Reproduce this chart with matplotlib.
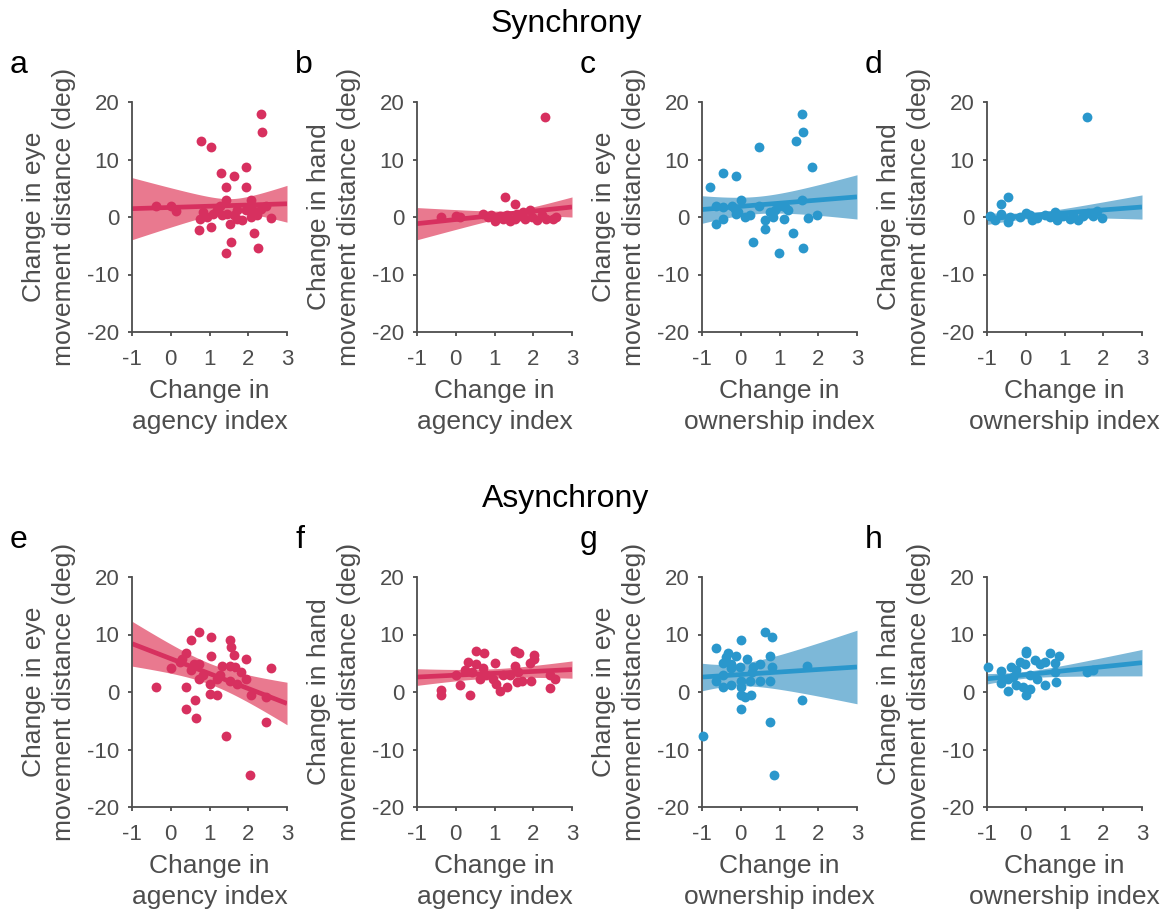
import numpy as np
import matplotlib.pyplot as plt

plt.rcParams['font.family'] = ['Liberation Sans', 'DejaVu Sans']
plt.rcParams['axes.unicode_minus'] = False

RED = '#d7305f'
RED_BAND = '#e9798f'
BLUE = '#2a97cc'
BLUE_BAND = '#7db8d8'
GREY = '#4d4d4d'

# --- synchrony ---
a_x = [2.32, 2.36, 0.77, 1.03, 1.95, 1.30, 1.64, 1.42, 1.95, -0.37, 0.00, 0.13,
       1.42, 2.06, 2.46, 2.58, 0.76, 0.93, 0.84, 1.19, 1.28, 1.45, 1.54, 1.71,
       1.84, 2.06, 2.23, 2.32, 0.72, 1.03, 2.15, 1.55, 1.43, 2.24, 1.10, 1.32,
       1.63, 1.93, 2.10, 1.71]
a_y = [17.9, 14.7, 13.2, 12.1, 8.7, 7.6, 7.1, 5.2, 5.2, 1.9, 2.0, 1.0,
       2.9, 2.9, 2.0, -0.2, -0.3, 0.0, 0.9, 1.2, 2.0, 0.6, -1.2, 1.2,
       -0.6, 0.0, 0.3, 1.4, -2.3, -1.7, -2.7, -4.4, -6.3, -5.4, 0.6, 0.3,
       0.3, 1.2, 1.4, -0.3]

b_x = [2.30, 1.28, 1.53, -0.39, 0.00, 0.12, 0.71, 0.84, 1.01, 1.14, 1.31, 1.40,
       1.53, 1.66, 1.78, 1.91, 1.96, 2.09, 2.22, 2.34, 2.52, 2.58, 0.92, 1.22,
       1.74, 1.59]
b_y = [17.4, 3.5, 2.3, 0.0, 0.1, 0.0, 0.5, 0.0, -0.7, 0.1, 0.3, -0.7,
       -0.3, 0.1, -0.3, 1.2, 0.0, -0.5, 0.3, -0.3, -0.3, 0.0, 0.3, -0.3,
       0.9, 0.5]

c_x = [1.59, 1.60, 1.43, 0.48, 1.85, -0.47, -0.13, -0.79, -0.64, -0.47, -0.22, 0.00,
       -0.13, 0.10, 0.23, 0.48, 0.62, 0.62, 0.75, 0.84, 0.98, 1.11, 1.22, 1.59,
       1.74, 1.98, -0.64, -0.47, 0.32, 0.99, 1.35, 1.60, -0.16, -0.07, 0.88, 1.14]
c_y = [18.0, 14.7, 13.2, 12.1, 8.7, 7.7, 7.1, 5.2, 2.0, 1.7, 2.0, 2.9,
       0.6, 0.0, 0.3, 2.0, -0.6, -2.0, 0.9, 0.0, 2.0, -0.3, 1.2, 3.0,
       -0.1, 0.3, -1.3, -0.3, -4.4, -6.3, -2.7, -5.4, 1.4, 0.9, 1.2, 1.7]

d_x = [1.59, -0.47, -0.64, -0.80, -0.64, -0.47, -0.41, -0.16, 0.00, 0.10, 0.15, 0.28,
       0.49, 0.62, 0.75, 0.81, 0.97, 1.14, 1.22, 1.35, 1.48, 1.61, 1.74, 1.85,
       1.98, -0.93]
d_y = [17.4, 3.5, 2.3, -0.6, 0.6, -0.9, 0.0, 0.0, 0.7, 0.3, -0.6, -0.1,
       0.3, 0.0, 0.9, -0.5, 0.1, -0.3, 0.3, -0.5, 0.1, 0.7, 0.1, 1.0,
       -0.1, 0.1]

# --- asynchrony ---
e_x = [0.72, 1.03, 0.51, 1.54, 1.56, 0.39, 1.64, 1.03, 1.94, 2.58, 0.29, 0.00,
       0.60, 0.72, 0.51, 0.72, 1.32, 1.54, 1.67, 1.80, 1.93, 1.19, 1.02, 1.28,
       1.54, 1.71, -0.37, 0.39, 1.02, 1.19, 2.06, 2.46, 0.63, 0.39, 0.65, 2.46,
       1.43, 2.05, 0.23, 0.84]
e_y = [10.4, 9.6, 9.0, 9.0, 7.8, 6.8, 6.4, 6.2, 5.8, 4.2, 5.8, 4.2,
       4.9, 4.8, 3.9, 2.3, 4.6, 4.6, 4.3, 3.5, 2.3, 2.3, 1.4, 2.9,
       2.0, 1.4, 0.9, 0.9, -0.3, -0.6, -0.6, -0.9, -1.4, -2.9, -4.6, -5.2,
       -7.7, -14.4, 5.2, 2.9]

f_x = [0.52, 0.72, 1.53, 1.63, 2.03, 2.03, 1.91, 0.32, 1.01, 0.52, 0.00, 0.23,
       0.41, 0.62, 0.71, 0.79, 0.97, 1.05, 1.14, 1.31, 1.40, 1.53, 1.61, 1.57,
       1.70, 1.93, 2.43, 2.56, 2.43, -0.39, -0.39, 0.12, 0.38, 1.22]
f_y = [7.2, 6.8, 7.2, 6.8, 6.4, 5.8, 5.1, 5.2, 5.1, 4.8, 3.0, 3.9,
       3.4, 2.3, 4.1, 2.9, 2.3, 1.4, 0.1, 0.9, 2.9, 4.6, 3.5, 1.7,
       2.0, 2.0, 3.0, 2.3, 0.7, 0.3, -0.5, 1.3, -0.5, 2.9]

g_x = [0.62, 0.81, 0.00, -0.64, -0.33, -0.13, -0.37, 0.16, 0.75, -0.47, -0.24, -0.03,
       0.32, 0.49, 0.81, 1.72, -0.24, -0.47, -0.64, -0.47, -0.24, 0.00, 0.23, 0.49,
       0.75, 0.00, 0.00, 0.12, 0.26, 0.00, 1.59, 0.75, -0.97, 0.86, 0.28]
g_y = [10.4, 9.6, 9.0, 7.7, 6.7, 6.3, 6.1, 5.8, 6.2, 5.0, 4.9, 4.3,
       4.3, 4.8, 4.3, 4.6, 4.1, 3.0, 2.0, 0.9, 1.3, 2.0, 1.9, 2.0,
       1.9, 0.9, -0.5, -0.9, -0.6, -2.9, -1.4, -5.2, -7.7, -14.4, 3.5]

h_x = [-0.97, 0.00, 0.00, 0.62, 0.86, 0.23, 0.49, -0.16, -0.03, 0.36, 0.75, -0.37,
       -0.24, -0.64, -0.47, -0.64, -0.47, -0.24, -0.07, 0.00, 0.12, 0.28, 0.49, 0.78,
       0.75, 1.59, 1.74, -0.33, 0.10]
h_y = [4.3, 7.2, 6.7, 6.8, 6.3, 5.5, 5.3, 5.2, 4.9, 4.8, 5.1, 4.3,
       3.8, 3.6, 2.3, 1.6, 0.1, 1.3, 0.9, -0.5, 0.6, 2.3, 1.3, 1.7,
       3.5, 3.4, 3.9, 2.6, 2.9]

# regression fits a..h: line value at x=-1 and x=3,
# 95% CI half-width at x=-1, at x=3, and at its narrowest
fit_left = [1.45, -1.16, 1.3, -0.3, 8.4, 2.6, 2.6, 2.3]
fit_right = [2.3, 1.74, 3.5, 1.74, -2.0, 3.9, 4.35, 5.1]
ci_left = [5.4, 2.8, 2.4, 1.0, 3.9, 1.45, 2.4, 0.9]
ci_right = [3.2, 1.75, 3.85, 2.1, 3.7, 1.5, 6.4, 2.3]
ci_min = [1.2, 0.5, 1.5, 0.5, 1.8, 0.8, 1.9, 0.6]

eye_label = 'Change in eye\nmovement distance (deg)'
hand_label = 'Change in hand\nmovement distance (deg)'
agency_label = 'Change in\nagency index'
owner_label = 'Change in\nownership index'

panels = [
    ('a', a_x, a_y, RED, RED_BAND, eye_label, agency_label),
    ('b', b_x, b_y, RED, RED_BAND, hand_label, agency_label),
    ('c', c_x, c_y, BLUE, BLUE_BAND, eye_label, owner_label),
    ('d', d_x, d_y, BLUE, BLUE_BAND, hand_label, owner_label),
    ('e', e_x, e_y, RED, RED_BAND, eye_label, agency_label),
    ('f', f_x, f_y, RED, RED_BAND, hand_label, agency_label),
    ('g', g_x, g_y, BLUE, BLUE_BAND, eye_label, owner_label),
    ('h', h_x, h_y, BLUE, BLUE_BAND, hand_label, owner_label),
]

W, H = 1169, 919
fig = plt.figure(figsize=(W / 100, H / 100), dpi=100)


def fit_band(i, xs):
    # straight fit line plus a hyperbolic confidence band around it
    yhat = fit_left[i] + (fit_right[i] - fit_left[i]) * (xs + 1) / 4
    h0 = ci_min[i]
    A = np.sqrt(ci_left[i] ** 2 - h0 ** 2)
    B = np.sqrt(ci_right[i] ** 2 - h0 ** 2)
    k = (A + B) / 4
    xc = -1 + A / k
    half = np.sqrt(h0 ** 2 + (k * (xs - xc)) ** 2)
    return yhat, yhat - half, yhat + half


xs = np.linspace(-1, 3, 200)
for i, (letter, x, y, col, band, ylab, xlab) in enumerate(panels):
    row, c = divmod(i, 4)
    left = 132 + 285 * c
    top = 102 + 475 * row
    ax = fig.add_axes([left / W, 1 - (top + 230) / H, 155 / W, 230 / H])

    yhat, lo, hi = fit_band(i, xs)
    ax.fill_between(xs, lo, hi, color=band, lw=0, zorder=1)
    ax.plot(xs, yhat, color=col, lw=3.4, zorder=2, solid_capstyle='butt')
    ax.scatter(x, y, s=50, color=col, lw=0, zorder=3, clip_on=False)

    ax.set_xlim(-1, 3)
    ax.set_ylim(-20, 20)
    ax.set_xticks([-1, 0, 1, 2, 3])
    ax.set_yticks([-20, -10, 0, 10, 20])
    for sp in ['top', 'right']:
        ax.spines[sp].set_visible(False)
    for sp in ['left', 'bottom']:
        ax.spines[sp].set_color(GREY)
        ax.spines[sp].set_linewidth(1.3)
    ax.tick_params(axis='both', direction='out', length=3, width=1.3,
                   color=GREY, labelcolor=GREY, labelsize=16)
    ax.tick_params(axis='x', pad=9)
    ax.tick_params(axis='y', pad=6)
    ax.set_xlabel(xlab, fontsize=19, color=GREY, labelpad=7, linespacing=1.35)
    ax.set_ylabel(ylab, fontsize=19, color=GREY, labelpad=8, linespacing=1.3)

    fig.text((left - 122) / W, 1 - (73 + 475 * row) / H, letter,
             fontsize=23, color='black', ha='left', va='baseline')

fig.text(566 / W, 1 - 32 / H, 'Synchrony', fontsize=23, ha='center', va='baseline')
fig.text(566 / W, 1 - 507 / H, 'Asynchrony', fontsize=23, ha='center', va='baseline')

fig.savefig('out.png', dpi=100)
